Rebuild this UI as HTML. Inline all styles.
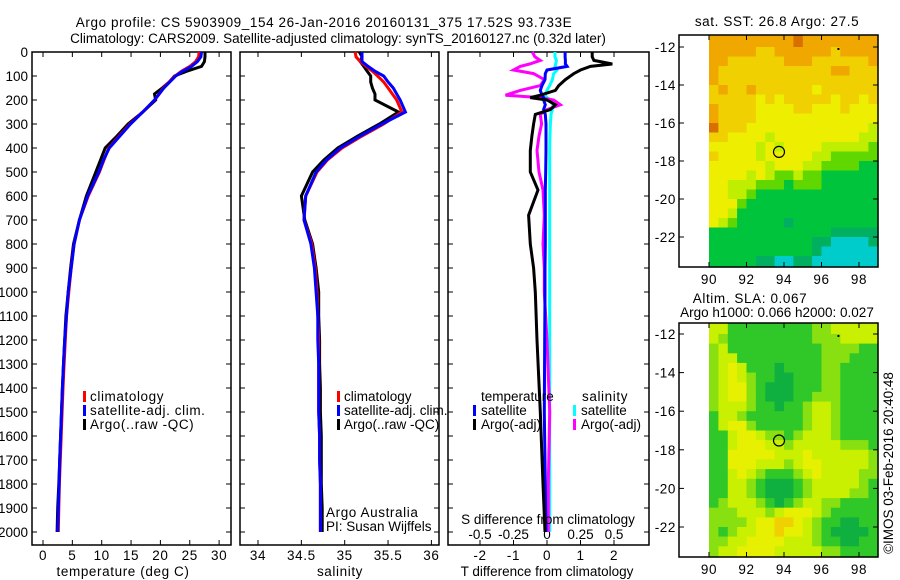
<!DOCTYPE html>
<html><head><meta charset="utf-8"><style>
body{margin:0;background:#fff}
svg{display:block;font-family:"Liberation Sans",sans-serif;font-size:13.5px;letter-spacing:0.6px}
.nd{letter-spacing:0}
</style></head><body>
<svg id="c" width="900" height="580" xmlns="http://www.w3.org/2000/svg"></svg>
<script>
// ---- profile data ----
const depths=[0,20,40,60,80,100,125,150,175,200,250,300,350,400,450,500,600,700,800,900,1000,1100,1200,1300,1400,1500,1600,1700,1800,1900,2000];
const tempClim=[26.6,26.5,26.0,25.0,23.6,22.5,21.5,20.5,19.8,19.0,17.0,14.8,13.0,11.2,10.4,9.6,7.7,6.2,5.3,4.8,4.4,4.0,3.8,3.6,3.4,3.25,3.1,2.95,2.8,2.7,2.6];
const tempSat=[27.0,26.9,26.3,25.3,23.8,22.6,21.6,20.6,19.8,19.0,17.0,14.9,13.1,11.3,10.3,9.5,7.6,6.2,5.3,4.8,4.3,4.0,3.7,3.5,3.3,3.15,3.0,2.85,2.75,2.6,2.5];
const tempArgo=[27.6,27.6,27.5,27.0,24.5,22.4,21.5,20.3,19.0,19.2,17.0,14.5,12.6,10.6,9.8,9.0,7.4,6.2,5.2,4.7,4.3,3.9,3.7,3.5,3.3,3.15,3.0,2.85,2.7,2.5,2.4];
const salClim=[35.12,35.13,35.18,35.25,35.32,35.38,35.45,35.5,35.55,35.6,35.66,35.45,35.2,34.97,34.8,34.68,34.55,34.53,34.62,34.66,34.68,34.69,34.7,34.7,34.7,34.7,34.71,34.71,34.72,34.72,34.72];
const salSat=[35.2,35.2,35.2,35.27,35.35,35.45,35.5,35.56,35.6,35.64,35.7,35.43,35.18,34.95,34.79,34.67,34.55,34.53,34.61,34.65,34.67,34.69,34.69,34.7,34.7,34.7,34.71,34.71,34.72,34.72,34.72];
const salArgo=[35.17,35.2,35.18,35.22,35.26,35.3,35.3,35.32,35.35,35.35,35.62,35.4,35.15,34.92,34.76,34.63,34.5,34.54,34.63,34.67,34.7,34.7,34.71,34.71,34.72,34.72,34.73,34.73,34.73,34.74,34.74];
// ---- difference panel data ----
const diffDepths=[0,20,35,50,60,75,90,115,140,160,180,190,200,220,240,260,300,350,410,500,575,680,800,900,1000,1200,1500,1800,2000];
const tDiffSat=[0.54,0.54,0.55,0.55,0.6,0.0,-0.05,-0.06,-0.15,-0.2,-0.15,-0.1,-0.1,-0.05,-0.1,-0.05,-0.03,-0.03,-0.03,-0.04,-0.05,-0.05,-0.05,-0.06,-0.06,-0.07,-0.08,-0.05,-0.03];
const tDiffArgo=[1.35,1.35,1.4,1.95,1.3,1.0,0.8,0.55,0.35,0.25,-0.2,-0.5,0.0,0.25,0.1,-0.35,-0.4,-0.45,-0.5,-0.5,-0.27,-0.55,-0.5,-0.4,-0.35,-0.3,-0.2,-0.12,-0.06];
const sDiffSat=[0.06,0.06,0.07,0.065,0.06,0.075,0.05,0.04,0.02,0.0,-0.015,0.0,0.03,0.045,0.04,0.03,0.025,0.022,0.02,0.02,0.02,0.02,0.02,0.02,0.02,0.02,0.02,0.02,0.02];
const sDiffArgo=[-0.11,-0.09,-0.05,-0.13,-0.2,-0.25,-0.1,-0.02,-0.05,-0.2,-0.31,-0.05,0.05,0.1,0.0,-0.05,-0.04,-0.06,-0.075,-0.06,-0.03,-0.02,-0.03,-0.02,-0.02,0.0,0.02,0.01,0.01];
// ---- ticks ----
const depthTicks=[0,100,200,300,400,500,600,700,800,900,1000,1100,1200,1300,1400,1500,1600,1700,1800,1900,2000];
const tempTicks=[0,5,10,15,20,25,30];
const salTicks=[34,34.5,35,35.5,36];
const tDiffTicks=[-2,-1,0,1,2];
const sDiffTicks=[-0.5,-0.25,0,0.25,0.5];
const sDiffTickLabels=["-0.5","-0.25","0","0.25","0.5"];
const latTicks=[-12,-14,-16,-18,-20,-22];
const lonTicks=[90,92,94,96,98];
// ---- map grids (0.5 deg cells, rows from -11.5 southwards, cols from 90E) ----
const sstRows=["777777777877777777","777776677777767777","776666667776666667","766666666666677666","766666666666666666","676676666665666666","666665656666656656","766665555665556555","766665555555555555","866655555555555554","665555455555555544","555554545555444443","655554555554433333","555555455544333322","555545433433222222","554443332333222222","554432222222222222","555322222222222222","554222222222222222","543222221222222222","222222222222211111","222222222221100001","222222222221000000","222221100110000000"];
const sstColors=["#00cccc","#00b060","#00c43c","#60d800","#c0ee00","#eeee00","#f0d000","#f0a800","#d87000"];
const slaRows=["331111111112233333","321111111112223333","231111111111222211","233111111111222111","234311101111221111","234321100111221111","234421000111221111","234421000112221111","233321101123321111","133211111123321111","134421111123321111","113443221233321111","113444332333332221","114444433343333332","114443332344333332","113432111234333322","113321000123333321","113321000123333221","123332101233221111","222333234443211111","222234455432110011","212334454432100001","223344443332110011","233444433333221111"];
const slaColors=["#10b040","#30c828","#88e010","#c8f000","#e6f000","#f0d000"];
const argoLon=93.733, argoLat=-17.52;

const NS="http://www.w3.org/2000/svg";
const svg=document.getElementById('c');
function mk(tag,attrs,parent){const e=document.createElementNS(NS,tag);for(const k in attrs)e.setAttribute(k,attrs[k]);(parent||svg).appendChild(e);return e;}
function txt(s,x,y,anchor,parent){const t=mk('text',{x:x,y:y,'text-anchor':anchor||'start',fill:'#000'},parent);t.textContent=s;return t;}

const yD=d=>52+d*0.24;
const PY0=52,PY1=545;

function panel(name,x0,x1){
  const g=mk('g',{});
  
  
  mk('rect',{x:x0,y:PY0,width:x1-x0,height:PY1-PY0,fill:'none',stroke:'#000','stroke-width':1.5},g);
  return g;
}
function line(xs,ds,xf,color,w,parent,name){
  const p=mk('polyline',{points:xs.map((v,i)=>xf(v).toFixed(1)+','+yD(ds[i]).toFixed(1)).join(' '),fill:'none',stroke:color,'stroke-width':w,'stroke-linejoin':'miter'},parent);
  
  
}
function depthAxis(g,x0,x1,labels){
  depthTicks.forEach(d=>{
    mk('line',{x1:x0,y1:yD(d),x2:x0+5,y2:yD(d),stroke:'#000'},g);
    mk('line',{x1:x1,y1:yD(d),x2:x1-5,y2:yD(d),stroke:'#000'},g);
    if(labels){const t=txt(String(d),x0-4,yD(d)+5,'end',g);t.setAttribute('class','nd');}
  });
}
function xAxis(g,ticks,xf,labs,yLab){
  ticks.forEach((v,i)=>{
    const x=xf(v);
    mk('line',{x1:x,y1:PY1,x2:x,y2:PY1-5,stroke:'#000'},g);
    mk('line',{x1:x,y1:PY0,x2:x,y2:PY0+5,stroke:'#000'},g);
    const t=txt(labs?labs[i]:String(v),x,yLab,'middle',g);
    
    
  });
}
function legendBar(x,y,color,g){mk('rect',{x:x,y:y-10,width:3,height:11,fill:color},g);}

const t1=txt("Argo profile: CS 5903909_154 26-Jan-2016 20160131_375 17.52S 93.733E",324,27,'middle');

const t2=txt("Climatology: CARS2009. Satellite-adjusted climatology: synTS_20160127.nc (0.32d later)",338,43,'middle');
t2.setAttribute('class','nd');


// Panel 1 temperature
const xT=v=>43+v*5.87;
const g1=panel('temperature-panel',32,231);
depthAxis(g1,32,231,true);
xAxis(g1,tempTicks,xT,null,560);
line(tempArgo,depths,xT,'#000',3,g1,'temp-argo-line');
line(tempClim,depths,xT,'#f00',3,g1,'temp-climatology-line');
line(tempSat,depths,xT,'#00f',3,g1,'temp-satellite-line');
const xl1=txt("temperature (deg C)",123,576,'middle',g1);
[["climatology","#f00",401],["satellite-adj. clim.","#00f",415],["Argo(..raw -QC)","#000",429]].forEach(a=>{legendBar(83,a[2],a[1],g1);const t=txt(a[0],90,a[2],'start',g1);});

// Panel 2 salinity
const xS=v=>258+(v-34)*86.7;
const g2=panel('salinity-panel',240,439);
depthAxis(g2,240,439,false);
xAxis(g2,salTicks,xS,null,560);
line(salArgo,depths,xS,'#000',3,g2,'sal-argo-line');
line(salClim,depths,xS,'#f00',3,g2,'sal-climatology-line');
line(salSat,depths,xS,'#00f',3,g2,'sal-satellite-line');
const xl2=txt("salinity",340,576,'middle',g2);
[["climatology","#f00",401],["satellite-adj. clim.","#00f",415],["Argo(..raw -QC)","#000",429]].forEach(a=>{legendBar(337,a[2],a[1],g2);const t=txt(a[0],344,a[2],'start',g2);t.setAttribute('class','nd');});
const cr1=txt("Argo Australia",326,517,'start',g2);
const cr2=txt("PI: Susan Wijffels",326,531,'start',g2);cr2.setAttribute('class','nd');

// Panel 3 differences
const xTD=v=>547+v*33.5;
const xSD=v=>547+v*134;
const g3=panel('difference-panel',448,649);
depthAxis(g3,448,649,false);
xAxis(g3,tDiffTicks,xTD,null,560);
sDiffTicks.forEach((v,i)=>{const t=txt(sDiffTickLabels[i],xSD(v),539,'middle',g3);t.setAttribute('class','nd');});
line(sDiffSat,diffDepths,xSD,'#0ff',3,g3,'sal-diff-satellite-line');
line(sDiffArgo,diffDepths,xSD,'#f0f',3,g3,'sal-diff-argo-line');
line(tDiffSat,diffDepths,xTD,'#00f',3,g3,'temp-diff-satellite-line');
line(tDiffArgo,diffDepths,xTD,'#000',3,g3,'temp-diff-argo-line');
const sdl=txt("S difference from climatology",548,524,'middle',g3);sdl.setAttribute('class','nd');
const xl3=txt("T difference from climatology",547,576,'middle',g3);xl3.setAttribute('class','nd');
const lt=txt("temperature",481,401,'start',g3);lt.setAttribute('class','nd');
const ls=txt("salinity",582,401,'start',g3);
[["satellite","#00f",473,415],["Argo(-adj)","#000",473,429],["satellite","#0ff",573,415],["Argo(-adj)","#f0f",573,429]].forEach(a=>{legendBar(a[2],a[3],a[1],g3);const t=txt(a[0],a[2]+8,a[3],'start',g3);t.setAttribute('class','nd');});

// Maps
function map(name,rows,colors,top,bottom,lat12y,lat22y){
  const g=mk('g',{});
  
  
  const L=679,R=878;
  const xLon=v=>709+(v-90)*18.75;
  const pxLat=(lat22y-lat12y)/10;
  const yLat=v=>lat12y+(-12-v)*pxLat;
  rows.forEach((row,r)=>{
    for(let c=0;c<row.length;c++){
      const lon=90+c*0.5, lat=-11.5-r*0.5;
      const x0=Math.max(xLon(lon),L), x1=Math.min(xLon(lon+0.5),R);
      const y0=Math.max(yLat(lat),top), y1=Math.min(yLat(lat-0.5),bottom);
      let yy0=(r===0)?top:y0, yy1=(r===rows.length-1)?bottom:y1;
      let xx1=(c===row.length-1)?R:x1;
      const cell=mk('rect',{x:x0.toFixed(1),y:yy0.toFixed(1),width:(xx1-x0+0.6).toFixed(1),height:(yy1-yy0+0.6).toFixed(1),fill:colors[+row[c]]},g);
      
      
    }
  });
  mk('rect',{x:L,y:top,width:R-L,height:bottom-top,fill:'none',stroke:'#000','stroke-width':1.5},g);
  latTicks.forEach(v=>{const y=yLat(v);mk('line',{x1:L,y1:y,x2:L+5,y2:y,stroke:'#000'},g);mk('line',{x1:R,y1:y,x2:R-5,y2:y,stroke:'#000'},g);const t=txt(String(v),676,y+5,'end',g);});
  lonTicks.forEach(v=>{const x=xLon(v);mk('line',{x1:x,y1:bottom,x2:x,y2:bottom-5,stroke:'#000'},g);mk('line',{x1:x,y1:top,x2:x,y2:top+5,stroke:'#000'},g);const t=txt(String(v),x,bottom+17,'middle',g);});
  const m=mk('circle',{cx:xLon(argoLon),cy:yLat(argoLat),r:5.5,fill:'none',stroke:'#000','stroke-width':1.2},g);
  
  mk('rect',{x:xLon(96.85),y:yLat(-12.05),width:2,height:2,fill:'#000'},g);
  return g;
}
map('sst-map',sstRows,sstColors,35,267,47,237);
const mt1=txt("sat. SST: 26.8 Argo: 27.5",777,26,'middle');
map('sla-map',slaRows,slaColors,323,557,334,527);
const mt2=txt("Altim. SLA: 0.067",750,303,'middle');
const mt3=txt("Argo h1000: 0.066 h2000: 0.027",777,317,'middle');mt3.setAttribute('class','nd');
const cp=txt("©IMOS 03-Feb-2016 20:40:48",0,0,'middle');
cp.setAttribute('class','nd');
cp.setAttribute('transform','translate(893,463) rotate(-90)');

</script>
</body></html>
